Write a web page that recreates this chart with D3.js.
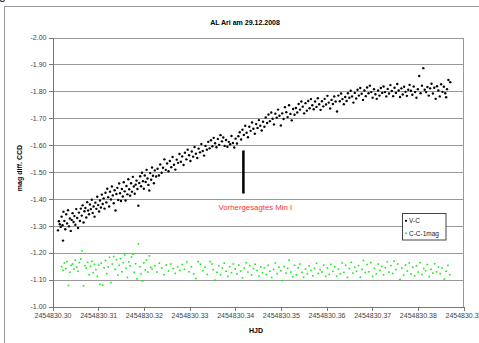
<!DOCTYPE html>
<meta charset="utf-8">
<head>
<script src="https://d3js.org/d3.v7.min.js"></script>
<style>
body { margin: 0; background: #fff; font-family: "Liberation Sans", Arial, sans-serif; }
.axis text { font-size: 7px; fill: #444; font-family: "Liberation Sans", Arial, sans-serif; }
.axis path, .axis line { stroke: #777; shape-rendering: crispEdges; }
.grid line { stroke: #999; shape-rendering: crispEdges; }
.grid path { stroke-width: 0; }
</style>
</head>
<body>
<script>

// HJD - 2454830 and magnitude differences
var hjdBase = 2454830;

var vcPoints = [
  [.3012,-1.283],[.3014,-1.317],[.3016,-1.306],[.3018,-1.296],[.3020,-1.334],[.3022,-1.302],[.3023,-1.245],[.3024,-1.352],[.3026,-1.318],[.3028,-1.287],
  [.3030,-1.343],[.3032,-1.309],[.3034,-1.358],[.3036,-1.298],[.3038,-1.327],[.3040,-1.281],[.3042,-1.322],[.3044,-1.347],[.3046,-1.314],[.3048,-1.336],
  [.3050,-1.304],[.3052,-1.362],[.3054,-1.329],[.3056,-1.292],[.3058,-1.349],[.3060,-1.318],[.3062,-1.364],[.3064,-1.338],[.3066,-1.376],[.3068,-1.312],
  [.3070,-1.354],[.3072,-1.366],[.3074,-1.331],[.3076,-1.388],[.3078,-1.357],[.3080,-1.343],[.3082,-1.379],[.3084,-1.362],[.3086,-1.397],[.3088,-1.348],
  [.3090,-1.372],[.3092,-1.334],[.3094,-1.386],[.3096,-1.363],[.3098,-1.408],[.3100,-1.377],[.3102,-1.353],[.3104,-1.394],[.3106,-1.368],[.3108,-1.416],
  [.3110,-1.381],[.3112,-1.402],[.3114,-1.364],[.3116,-1.423],[.3118,-1.387],[.3120,-1.438],[.3122,-1.406],[.3124,-1.372],[.3126,-1.427],[.3128,-1.398],
  [.3130,-1.446],[.3132,-1.413],[.3134,-1.384],[.3136,-1.432],[.3138,-1.357],[.3140,-1.418],[.3142,-1.441],[.3144,-1.396],[.3146,-1.457],[.3148,-1.421],
  [.3150,-1.392],[.3152,-1.437],[.3154,-1.409],[.3156,-1.462],[.3158,-1.428],[.3160,-1.394],[.3162,-1.448],[.3164,-1.417],[.3166,-1.473],[.3168,-1.436],
  [.3170,-1.412],[.3172,-1.458],[.3174,-1.427],[.3176,-1.482],[.3178,-1.446],[.3180,-1.419],[.3182,-1.453],[.3184,-1.468],[.3186,-1.437],[.3188,-1.375],
  [.3190,-1.459],[.3192,-1.484],[.3194,-1.447],[.3196,-1.497],[.3198,-1.466],[.3200,-1.438],[.3202,-1.487],[.3204,-1.463],[.3206,-1.508],[.3208,-1.476],
  [.3210,-1.452],[.3212,-1.431],[.3214,-1.496],[.3216,-1.471],[.3218,-1.517],[.3220,-1.486],[.3222,-1.458],[.3224,-1.506],[.3227,-1.483],[.3230,-1.512],
  [.3233,-1.487],[.3236,-1.528],[.3239,-1.497],[.3242,-1.516],[.3245,-1.547],[.3248,-1.508],[.3251,-1.532],[.3254,-1.503],[.3257,-1.541],[.3260,-1.518],
  [.3263,-1.556],[.3266,-1.527],[.3269,-1.509],[.3272,-1.546],[.3275,-1.534],[.3278,-1.567],[.3281,-1.538],[.3284,-1.558],[.3287,-1.526],[.3290,-1.572],
  [.3293,-1.547],[.3296,-1.583],[.3299,-1.562],[.3302,-1.541],[.3305,-1.576],[.3308,-1.557],[.3311,-1.593],[.3314,-1.568],[.3317,-1.552],[.3320,-1.587],
  [.3323,-1.573],[.3326,-1.604],[.3329,-1.578],[.3332,-1.561],[.3335,-1.597],[.3338,-1.583],[.3341,-1.612],[.3344,-1.588],[.3347,-1.618],[.3350,-1.596],
  [.3353,-1.627],[.3356,-1.607],[.3359,-1.592],[.3362,-1.623],[.3365,-1.601],[.3368,-1.637],[.3371,-1.614],[.3374,-1.628],[.3377,-1.597],[.3380,-1.619],
  [.3383,-1.594],[.3386,-1.612],[.3389,-1.603],[.3392,-1.634],[.3395,-1.608],[.3398,-1.591],[.3401,-1.624],[.3404,-1.606],[.3407,-1.633],[.3410,-1.648],
  [.3413,-1.621],[.3416,-1.657],[.3419,-1.638],[.3422,-1.672],[.3425,-1.646],[.3428,-1.629],[.3431,-1.668],[.3434,-1.653],[.3437,-1.684],[.3440,-1.661],
  [.3443,-1.642],[.3446,-1.678],[.3449,-1.664],[.3452,-1.693],[.3455,-1.672],[.3458,-1.654],[.3461,-1.687],[.3464,-1.668],[.3467,-1.703],[.3470,-1.682],
  [.3473,-1.714],[.3476,-1.689],[.3479,-1.721],[.3482,-1.698],[.3485,-1.677],[.3488,-1.717],[.3491,-1.702],[.3494,-1.732],[.3497,-1.709],[.3500,-1.673],
  [.3503,-1.718],[.3506,-1.697],[.3509,-1.741],[.3512,-1.722],[.3515,-1.704],[.3518,-1.748],[.3521,-1.716],[.3524,-1.692],[.3527,-1.734],[.3530,-1.713],
  [.3533,-1.738],[.3536,-1.721],[.3539,-1.753],[.3542,-1.732],[.3545,-1.762],[.3548,-1.743],[.3551,-1.718],[.3554,-1.756],[.3557,-1.728],[.3560,-1.764],
  [.3563,-1.737],[.3566,-1.771],[.3569,-1.748],[.3572,-1.733],[.3575,-1.762],[.3578,-1.742],[.3581,-1.774],[.3584,-1.752],[.3587,-1.731],[.3590,-1.763],
  [.3593,-1.744],[.3596,-1.772],[.3599,-1.751],[.3602,-1.783],[.3605,-1.758],[.3608,-1.736],[.3611,-1.768],[.3614,-1.753],[.3617,-1.781],[.3620,-1.762],
  [.3623,-1.725],[.3626,-1.784],[.3629,-1.763],[.3632,-1.792],[.3635,-1.771],[.3638,-1.752],[.3641,-1.779],[.3644,-1.764],[.3647,-1.793],[.3650,-1.776],
  [.3653,-1.802],[.3656,-1.781],[.3659,-1.758],[.3662,-1.794],[.3665,-1.773],[.3668,-1.806],[.3671,-1.784],[.3674,-1.812],[.3677,-1.791],[.3680,-1.768],
  [.3683,-1.803],[.3686,-1.782],[.3689,-1.814],[.3692,-1.793],[.3695,-1.821],[.3698,-1.797],[.3701,-1.776],[.3704,-1.808],[.3707,-1.789],[.3710,-1.772],
  [.3713,-1.803],[.3716,-1.784],[.3719,-1.812],[.3722,-1.794],[.3725,-1.818],[.3728,-1.797],[.3731,-1.781],[.3734,-1.809],[.3737,-1.792],[.3740,-1.823],
  [.3743,-1.801],[.3746,-1.782],[.3749,-1.813],[.3752,-1.794],[.3755,-1.827],[.3758,-1.803],[.3761,-1.779],[.3764,-1.811],[.3767,-1.788],[.3770,-1.817],
  [.3773,-1.798],[.3776,-1.783],[.3779,-1.806],[.3782,-1.824],[.3785,-1.802],[.3788,-1.787],[.3791,-1.818],[.3794,-1.797],[.3797,-1.776],[.3800,-1.808],
  [.3803,-1.857],[.3806,-1.793],[.3809,-1.821],[.3812,-1.886],[.3815,-1.806],[.3818,-1.797],[.3821,-1.816],[.3824,-1.784],[.3827,-1.811],[.3830,-1.828],
  [.3833,-1.792],[.3836,-1.813],[.3839,-1.772],[.3842,-1.819],[.3845,-1.803],[.3848,-1.781],[.3851,-1.826],[.3854,-1.798],[.3857,-1.817],[.3860,-1.793],
  [.3862,-1.778],[.3864,-1.808],[.3867,-1.842],[.3871,-1.834]
];

var ccPoints = [
  [.3020,-1.148],[.3023,-1.134],[.3026,-1.162],[.3029,-1.141],[.3032,-1.167],[.3035,-1.078],[.3038,-1.127],[.3041,-1.153],[.3044,-1.158],[.3047,-1.139],
  [.3050,-1.172],[.3053,-1.146],[.3056,-1.131],[.3059,-1.163],[.3062,-1.176],[.3065,-1.207],[.3068,-1.077],[.3071,-1.152],[.3074,-1.143],[.3077,-1.164],
  [.3080,-1.118],[.3083,-1.149],[.3086,-1.168],[.3089,-1.126],[.3092,-1.157],[.3095,-1.137],[.3098,-1.112],[.3101,-1.154],[.3104,-1.082],[.3107,-1.161],
  [.3110,-1.079],[.3113,-1.144],[.3116,-1.171],[.3119,-1.122],[.3122,-1.147],[.3125,-1.183],[.3128,-1.089],[.3131,-1.158],[.3134,-1.186],[.3137,-1.138],
  [.3140,-1.174],[.3143,-1.117],[.3146,-1.153],[.3149,-1.178],[.3152,-1.129],[.3155,-1.163],[.3158,-1.192],[.3161,-1.142],[.3164,-1.108],[.3167,-1.166],
  [.3170,-1.151],[.3173,-1.184],[.3176,-1.194],[.3179,-1.127],[.3182,-1.159],[.3185,-1.103],[.3188,-1.233],[.3191,-1.148],[.3194,-1.121],[.3197,-1.095],
  [.3200,-1.162],[.3203,-1.136],[.3206,-1.173],[.3209,-1.128],[.3212,-1.188],[.3215,-1.146],[.3218,-1.139],[.3224,-1.152],[.3229,-1.128],[.3234,-1.161],
  [.3239,-1.143],[.3244,-1.118],[.3249,-1.154],[.3254,-1.132],[.3259,-1.158],[.3264,-1.141],[.3269,-1.123],[.3274,-1.147],[.3279,-1.134],[.3284,-1.156],
  [.3289,-1.138],[.3294,-1.166],[.3299,-1.129],[.3304,-1.148],[.3309,-1.121],[.3314,-1.104],[.3319,-1.167],[.3324,-1.157],[.3329,-1.133],[.3334,-1.146],
  [.3339,-1.119],[.3345,-1.167],[.3349,-1.158],[.3352,-1.137],[.3356,-1.098],[.3360,-1.127],[.3364,-1.152],[.3368,-1.118],[.3372,-1.143],[.3376,-1.161],
  [.3380,-1.131],[.3384,-1.112],[.3388,-1.148],[.3392,-1.126],[.3396,-1.158],[.3400,-1.139],[.3404,-1.121],[.3408,-1.154],[.3412,-1.132],[.3416,-1.107],
  [.3420,-1.143],[.3424,-1.163],[.3428,-1.128],[.3432,-1.152],[.3436,-1.117],[.3440,-1.141],[.3444,-1.157],[.3448,-1.134],[.3452,-1.113],[.3456,-1.147],
  [.3460,-1.126],[.3464,-1.144],[.3468,-1.119],[.3472,-1.153],[.3476,-1.131],[.3480,-1.108],[.3484,-1.138],[.3488,-1.162],[.3492,-1.122],[.3496,-1.146],
  [.3500,-1.133],[.3503,-1.096],[.3507,-1.149],[.3511,-1.124],[.3515,-1.142],[.3518,-1.172],[.3522,-1.128],[.3526,-1.111],[.3530,-1.153],[.3534,-1.118],
  [.3538,-1.144],[.3542,-1.158],[.3546,-1.127],[.3550,-1.109],[.3554,-1.139],[.3558,-1.121],[.3562,-1.151],[.3566,-1.134],[.3570,-1.114],[.3574,-1.142],
  [.3578,-1.161],[.3582,-1.123],[.3586,-1.137],[.3590,-1.128],[.3594,-1.154],[.3598,-1.112],[.3602,-1.143],[.3606,-1.119],[.3610,-1.157],[.3614,-1.131],
  [.3618,-1.148],[.3622,-1.113],[.3626,-1.139],[.3630,-1.122],[.3634,-1.162],[.3638,-1.127],[.3642,-1.153],[.3646,-1.108],[.3650,-1.141],[.3654,-1.164],
  [.3658,-1.124],[.3662,-1.146],[.3666,-1.131],[.3670,-1.152],[.3674,-1.109],[.3678,-1.138],[.3681,-1.171],[.3685,-1.126],[.3689,-1.156],[.3693,-1.129],
  [.3697,-1.163],[.3701,-1.112],[.3705,-1.142],[.3709,-1.121],[.3713,-1.158],[.3717,-1.134],[.3721,-1.149],[.3725,-1.118],[.3729,-1.144],[.3733,-1.166],
  [.3737,-1.128],[.3741,-1.152],[.3745,-1.123],[.3748,-1.169],[.3752,-1.137],[.3756,-1.158],[.3761,-1.101],[.3765,-1.143],[.3769,-1.117],[.3773,-1.154],
  [.3777,-1.132],[.3781,-1.162],[.3785,-1.121],[.3789,-1.146],[.3793,-1.114],[.3797,-1.151],[.3801,-1.128],[.3805,-1.163],[.3809,-1.119],[.3813,-1.141],
  [.3817,-1.133],[.3821,-1.156],[.3825,-1.111],[.3829,-1.138],[.3833,-1.124],[.3837,-1.159],[.3841,-1.129],[.3845,-1.147],[.3849,-1.122],[.3853,-1.143],
  [.3858,-1.102],[.3862,-1.131],[.3866,-1.153],[.3870,-1.118]
];

var seriesNames = ["V-C", "C-C-1mag"];
var xTicks = [0.30, 0.31, 0.32, 0.33, 0.34, 0.35, 0.36, 0.37, 0.38, 0.39];
var yTicks = [-2.00, -1.90, -1.80, -1.70, -1.60, -1.50, -1.40, -1.30, -1.20, -1.10, -1.00];

// predicted minimum marker
var minTime = 0.3418;
var minMags = [-1.58, -1.42];
var minLabel = "Vorhergesagtes Min I";

var margin = {top: 37.5, left: 52.5},
    width = 411,
    height = 269;

var svg = d3.select("body").append("svg")
    .attr("width", 479)
    .attr("height", 343);

// cut-off glyph at the top left corner
svg.append("text")
    .attr("x", -1).attr("y", -1)
    .style("font-size", "12px")
    .text("g");

// chart frame
svg.append("rect")
    .attr("x", 4.5).attr("y", 6.5)
    .attr("width", 520).attr("height", 400)
    .attr("fill", "none")
    .attr("stroke", "#999");

// title
svg.append("text")
    .attr("x", 245).attr("y", 25)
    .style("text-anchor", "middle")
    .style("font-size", "7px")
    .style("font-weight", "bold")
    .text("AL Ari am 29.12.2008");

var g = svg.append("g")
    .attr("transform", "translate(" + margin.left + "," + margin.top + ")");

var x = d3.scaleLinear().domain([0.30, 0.39]).range([0, width]);
var y = d3.scaleLinear().domain([-1.00, -2.00]).range([height, 0]);

// horizontal gridlines
g.append("g")
    .attr("class", "grid")
    .call(d3.axisLeft(y).tickValues(yTicks).tickSize(-width).tickFormat(""));

// right border of the plot area
g.append("line")
    .attr("x1", width).attr("x2", width)
    .attr("y1", 0).attr("y2", height)
    .attr("stroke", "#999")
    .style("shape-rendering", "crispEdges");

// axes
g.append("g")
    .attr("class", "axis")
    .call(d3.axisLeft(y).tickValues(yTicks).tickSize(4).tickSizeOuter(0).tickPadding(2)
        .tickFormat(function(d) { return d.toFixed(2); }));

g.append("g")
    .attr("class", "axis")
    .attr("transform", "translate(0," + height + ")")
    .call(d3.axisBottom(x).tickValues(xTicks).tickSize(4).tickSizeOuter(0).tickPadding(2.5)
        .tickFormat(function(d) { return (hjdBase + d).toFixed(2); }));

// axis labels
svg.append("text")
    .attr("transform", "translate(22,168) rotate(-90)")
    .style("text-anchor", "middle")
    .style("font-size", "7px")
    .style("font-weight", "bold")
    .text("mag diff. CCD");

svg.append("text")
    .attr("x", 256).attr("y", 333)
    .style("text-anchor", "middle")
    .style("font-size", "7px")
    .style("font-weight", "bold")
    .text("HJD");

// comparison stars
g.selectAll(".cc")
    .data(ccPoints)
  .enter().append("rect")
    .attr("class", "cc")
    .attr("x", function(d) { return x(d[0]) - 0.8; })
    .attr("y", function(d) { return y(d[1]) - 0.8; })
    .attr("width", 1.6).attr("height", 1.6)
    .attr("fill", "#11ee11");

// variable
g.selectAll(".vc")
    .data(vcPoints)
  .enter().append("circle")
    .attr("class", "vc")
    .attr("cx", function(d) { return x(d[0]); })
    .attr("cy", function(d) { return y(d[1]); })
    .attr("r", 1.2)
    .attr("fill", "#000");

// predicted minimum
g.append("line")
    .attr("x1", x(minTime)).attr("x2", x(minTime))
    .attr("y1", y(minMags[0])).attr("y2", y(minMags[1]))
    .attr("stroke", "#000")
    .attr("stroke-width", 2.5);

g.append("text")
    .attr("x", x(minTime) + 12).attr("y", y(-1.36))
    .style("text-anchor", "middle")
    .style("font-size", "7.8px")
    .attr("fill", "#ff3333")
    .text(minLabel);

// legend
var legend = svg.append("g").attr("transform", "translate(402.5,213.5)");
legend.append("rect")
    .attr("width", 43.5).attr("height", 26.5)
    .attr("fill", "#fff")
    .attr("stroke", "#444");

legend.selectAll(".entry")
    .data(seriesNames)
  .enter().append("text")
    .attr("class", "entry")
    .attr("x", 6.5)
    .attr("y", function(d, i) { return 9.5 + i * 12.5; })
    .style("font-size", "6.5px")
    .attr("fill", "#222")
    .text(function(d) { return d; });

legend.append("circle")
    .attr("cx", 3.5).attr("cy", 7.3).attr("r", 1.1).attr("fill", "#000");
legend.append("rect")
    .attr("x", 2.7).attr("y", 19).attr("width", 1.6).attr("height", 1.6).attr("fill", "#11ee11");

</script>
</body>
